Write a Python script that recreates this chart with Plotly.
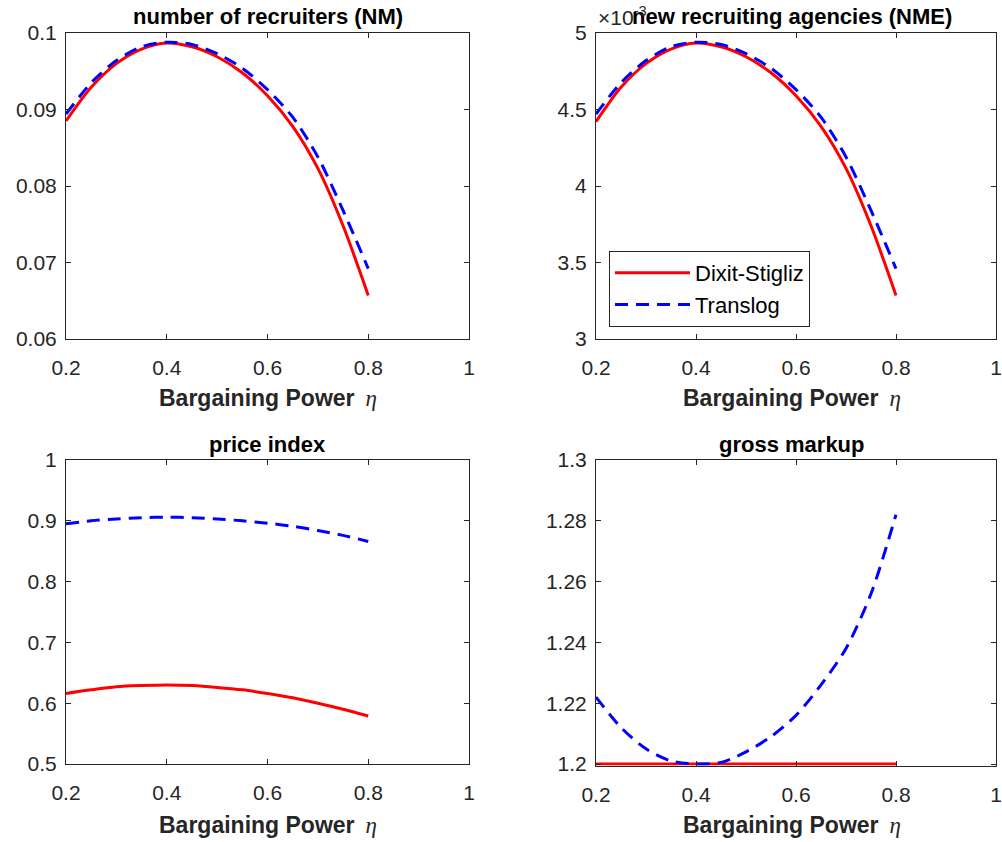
import plotly.graph_objects as go
from plotly.subplots import make_subplots

eta = [0.2, 0.25, 0.3, 0.35, 0.4, 0.45, 0.5, 0.55, 0.6, 0.65, 0.7, 0.75, 0.8]

nm_ds = [0.0885, 0.0929, 0.0960, 0.0979, 0.0987, 0.0982, 0.0969, 0.0948, 0.0918, 0.0878, 0.0823, 0.0748, 0.0657]
nm_tl = [0.0894, 0.0935, 0.0964, 0.0982, 0.0988, 0.0985, 0.0973, 0.0954, 0.0926, 0.0890, 0.0838, 0.0768, 0.0692]

nme_ds = [0.004420, 0.004645, 0.004800, 0.004895, 0.004935, 0.004910, 0.004845, 0.004740, 0.004590, 0.004390, 0.004115, 0.003740, 0.003285]
nme_tl = [0.004470, 0.004675, 0.004820, 0.004910, 0.004940, 0.004925, 0.004865, 0.004770, 0.004630, 0.004450, 0.004190, 0.003840, 0.003460]

pi_ds = [0.616, 0.622, 0.627, 0.629, 0.630, 0.629, 0.626, 0.622, 0.616, 0.609, 0.600, 0.590, 0.579]
pi_tl = [0.895, 0.900, 0.903, 0.905, 0.906, 0.905, 0.903, 0.900, 0.896, 0.891, 0.884, 0.876, 0.866]

mu_ds = [1.2, 1.2, 1.2, 1.2, 1.2, 1.2, 1.2, 1.2, 1.2, 1.2, 1.2, 1.2, 1.2]
mu_tl = [1.222, 1.212, 1.205, 1.201, 1.200, 1.2005, 1.204, 1.209, 1.216, 1.226, 1.238, 1.256, 1.282]

titles = ["number of recruiters (NM)", "new recruiting agencies (NME)", "price index", "gross markup"]
series_names = ["Dixit-Stigliz", "Translog"]
x_ticks = [0.2, 0.4, 0.6, 0.8, 1]
nm_ticks = [0.06, 0.07, 0.08, 0.09, 0.1]
nme_ticks = [0.003, 0.0035, 0.004, 0.0045, 0.005]
nme_ticktext = ["3", "3.5", "4", "4.5", "5"]
pi_ticks = [0.5, 0.6, 0.7, 0.8, 0.9, 1]
mu_ticks = [1.2, 1.22, 1.24, 1.26, 1.28, 1.3]

W, H = 1002, 842
FONT = "Liberation Sans, Arial, Helvetica, sans-serif"
INK = "#262626"

fig = make_subplots(rows=2, cols=2)

panels = [(nm_ds, nm_tl, 1, 1), (nme_ds, nme_tl, 1, 2), (pi_ds, pi_tl, 2, 1), (mu_ds, mu_tl, 2, 2)]
for i, (ds, tl, r, c) in enumerate(panels):
    fig.add_trace(go.Scatter(x=eta, y=ds, mode="lines", name=series_names[0],
                             line=dict(color="#ff0000", width=3, shape="spline", smoothing=0.8),
                             showlegend=(i == 1)), row=r, col=c)
    fig.add_trace(go.Scatter(x=eta, y=tl, mode="lines", name=series_names[1],
                             line=dict(color="#0000ff", width=3, dash="13px,8px", shape="spline", smoothing=0.8),
                             showlegend=(i == 1)), row=r, col=c)

xl = [66 / W, 469 / W]
xr = [596 / W, 996 / W]
yt = [1 - 339 / H, 1 - 33 / H]
yb = [1 - 764 / H, 1 - 460 / H]
ybr = [1 - 765.5 / H, 1 - 460 / H]
doms = [(xl, yt), (xr, yt), (xl, yb), (xr, ybr)]

axcommon = dict(showline=True, linecolor=INK, linewidth=1, mirror="ticks", ticks="inside",
                ticklen=5, tickcolor=INK, showgrid=False, zeroline=False, automargin=False,
                tickfont=dict(family=FONT, size=21, color=INK))

yaxes = [
    dict(range=[0.06, 0.1], tickvals=nm_ticks),
    dict(range=[0.003, 0.005], tickvals=nme_ticks, ticktext=nme_ticktext),
    dict(range=[0.5, 1], tickvals=pi_ticks),
    dict(range=[1.2 - 1.5 / 3040, 1.3], tickvals=mu_ticks),
]
for i in range(4):
    r, c = panels[i][2], panels[i][3]
    fig.update_xaxes(domain=doms[i][0], range=[0.2, 1], tickvals=x_ticks, ticklabelstandoff=10,
                     row=r, col=c, **axcommon)
    fig.update_yaxes(domain=doms[i][1], ticklabelstandoff=4, row=r, col=c, **axcommon, **yaxes[i])

annos = []
centers_x = [(xl[0] + xl[1]) / 2, (xr[0] + xr[1]) / 2 - 4 / W]
title_y = [1 - 17 / H, 1 - 444 / H]
label_y = [1 - 398 / H, 1 - 825 / H]
for i, t in enumerate(titles):
    cx = centers_x[i % 2]
    ty = title_y[i // 2]
    annos.append(dict(text="<b>" + t + "</b>", x=cx, y=ty, xref="paper", yref="paper",
                      xanchor="center", yanchor="middle", showarrow=False,
                      font=dict(family=FONT, size=22, color="#000000")))
    annos.append(dict(text="<b>Bargaining Power</b>&#8201; <span style='font-family:Liberation Serif'><i>η</i></span>",
                      x=cx, y=label_y[i // 2], xref="paper", yref="paper",
                      xanchor="center", yanchor="middle", showarrow=False,
                      font=dict(family=FONT, size=23, color=INK)))
annos.append(dict(text="×10<sup>-3</sup>", x=596 / W, y=1 - 16 / H, xref="paper", yref="paper",
                  xanchor="left", yanchor="middle", showarrow=False,
                  font=dict(family=FONT, size=21, color=INK)))

fig.update_layout(
    width=W, height=H,
    margin=dict(l=0, r=0, t=0, b=0, autoexpand=False),
    paper_bgcolor="white", plot_bgcolor="white",
    font=dict(family=FONT, size=21, color=INK),
    annotations=annos,
    legend=dict(x=609 / W, y=1 - 251 / H, xanchor="left", yanchor="top",
                bordercolor=INK, borderwidth=1, bgcolor="white",
                font=dict(family=FONT, size=22, color="#000000"),
                itemwidth=75, tracegroupgap=0),
)

fig.write_html("out.html", config={"displayModeBar": False},
               post_script="document.body.style.margin='0px';")
